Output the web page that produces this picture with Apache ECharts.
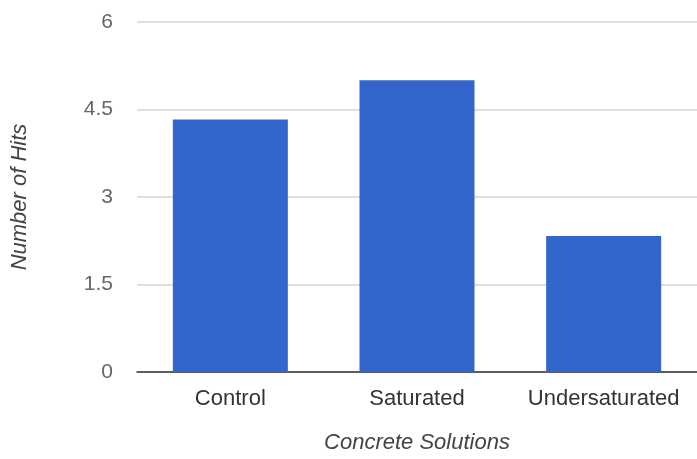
<!DOCTYPE html>
<html>
<head>
<meta charset="utf-8">
<script src="https://cdn.jsdelivr.net/npm/echarts@6/dist/echarts.min.js"></script>
<style>
  html, body { margin: 0; padding: 0; background: #fff; }
  #chart { width: 697px; height: 459px; }
</style>
</head>
<body>
<div id="chart"></div>
<script>
// data
const categories = ['Control', 'Saturated', 'Undersaturated'];
const hits = [4.33, 5, 2.33];
const yTicks = [0, 1.5, 3, 4.5, 6];

const chart = echarts.init(document.getElementById('chart'));

chart.setOption({
  animation: false,
  textStyle: { fontFamily: 'Liberation Sans, Arial, sans-serif' },
  grid: { left: 137, right: -3, top: 22, bottom: 86 },
  xAxis: {
    type: 'category',
    data: categories,
    name: 'Concrete Solutions',
    nameLocation: 'middle',
    nameGap: 60,
    nameTextStyle: { fontSize: 22, fontStyle: 'italic', color: '#444' },
    axisLine: { lineStyle: { color: '#333', width: 1.5 } },
    axisTick: { show: false },
    axisLabel: { fontSize: 22, color: '#333', margin: 16, interval: 0, hideOverlap: false }
  },
  yAxis: {
    type: 'value',
    min: yTicks[0],
    max: yTicks[yTicks.length - 1],
    interval: 1.5,
    name: 'Number of Hits',
    nameLocation: 'middle',
    nameGap: 106,
    nameRotate: 90,
    nameTextStyle: { fontSize: 22, fontStyle: 'italic', color: '#444' },
    axisLine: { show: false },
    axisTick: { show: false },
    axisLabel: { fontSize: 21, color: '#666', margin: 24 },
    splitLine: { lineStyle: { color: '#d4d4d4', width: 1.5 } }
  },
  series: [{
    type: 'bar',
    data: hits,
    barWidth: 115,
    itemStyle: { color: '#3366cc' }
  }]
});
</script>
</body>
</html>
